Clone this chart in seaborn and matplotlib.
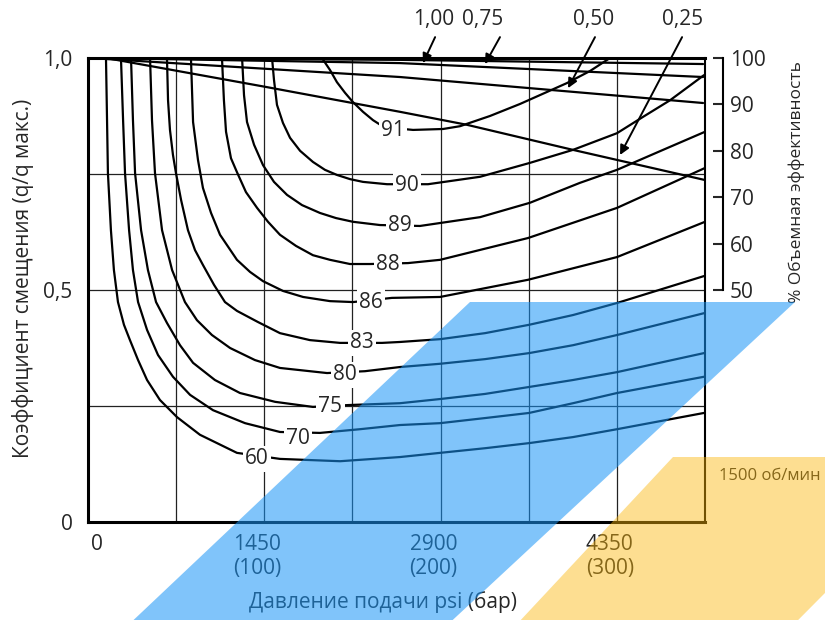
import matplotlib
matplotlib.use("Agg")
import matplotlib.pyplot as plt
import matplotlib.transforms as mtransforms
from matplotlib.patches import Polygon
from matplotlib.ticker import MultipleLocator
import seaborn as sns

sns.set_style("white")
plt.rcParams["font.family"] = ["Open Sans", "DejaVu Sans"]

# x: supply pressure in bar, y: displacement ratio q/q max
c60_p = [10.2, 10.8, 11.3, 13.0, 14.7, 17.0, 20.4, 23.8, 28.4, 33.5, 40.8, 50.5, 63.5, 84.5, 108.9, 143.0, 177.0, 199.7, 225.2, 250.2, 275.1, 300.1, 349.4]
c60_q = [1.000, 0.866, 0.752, 0.629, 0.543, 0.474, 0.425, 0.392, 0.349, 0.306, 0.263, 0.226, 0.188, 0.149, 0.136, 0.131, 0.140, 0.149, 0.159, 0.170, 0.183, 0.200, 0.235]

c70_p = [18.7, 19.9, 21.0, 23.3, 25.5, 28.4, 33.5, 39.7, 48.2, 57.9, 70.9, 89.1, 108.9, 131.6, 154.3, 177.0, 199.7, 225.2, 250.2, 275.1, 300.1, 349.4]
c70_q = [1.000, 0.866, 0.752, 0.629, 0.543, 0.474, 0.414, 0.360, 0.313, 0.274, 0.241, 0.213, 0.194, 0.192, 0.200, 0.209, 0.213, 0.224, 0.235, 0.256, 0.278, 0.313]

c75_p = [24.4, 25.5, 26.7, 30.1, 34.0, 38.6, 44.8, 52.2, 59.6, 72.0, 86.2, 106.1, 127.6, 147.5, 177.0, 199.7, 225.2, 250.2, 275.1, 300.1, 349.4]
c75_q = [1.000, 0.866, 0.752, 0.629, 0.543, 0.474, 0.429, 0.381, 0.343, 0.306, 0.278, 0.259, 0.248, 0.252, 0.256, 0.265, 0.276, 0.291, 0.306, 0.323, 0.364]

c80_p = [35.2, 36.3, 38.0, 42.0, 47.7, 55.0, 61.8, 70.3, 80.6, 94.7, 108.9, 135.6, 157.1, 177.0, 199.7, 225.2, 250.2, 275.1, 300.1, 349.4]
c80_q = [1.000, 0.866, 0.752, 0.629, 0.543, 0.474, 0.435, 0.403, 0.375, 0.349, 0.332, 0.321, 0.325, 0.334, 0.341, 0.351, 0.364, 0.381, 0.403, 0.450]

c83_p = [44.8, 45.4, 46.5, 48.2, 49.9, 52.8, 56.7, 60.7, 65.2, 71.5, 77.7, 84.5, 96.4, 108.9, 125.9, 143.0, 166.8, 177.0, 199.7, 225.2, 250.2, 275.1, 300.1, 349.4]
c83_q = [1.000, 0.909, 0.845, 0.791, 0.752, 0.694, 0.629, 0.586, 0.554, 0.511, 0.474, 0.455, 0.431, 0.407, 0.392, 0.386, 0.386, 0.388, 0.394, 0.407, 0.425, 0.446, 0.472, 0.530]

c86_p = [58.4, 59.6, 62.4, 65.2, 69.8, 74.9, 84.5, 91.9, 99.3, 110.6, 122.0, 137.3, 150.3, 172.4, 199.7, 249.6, 300.1, 350.0]
c86_q = [1.000, 0.862, 0.780, 0.720, 0.666, 0.619, 0.565, 0.539, 0.519, 0.498, 0.485, 0.476, 0.474, 0.483, 0.485, 0.522, 0.571, 0.647]

c88_p = [76.0, 77.1, 78.3, 81.1, 84.5, 89.6, 95.9, 102.1, 108.9, 118.0, 127.6, 137.3, 148.6, 160.0, 181.5, 199.7, 249.6, 300.1, 350.0]
c88_q = [1.000, 0.909, 0.841, 0.784, 0.754, 0.711, 0.677, 0.647, 0.619, 0.595, 0.575, 0.565, 0.556, 0.556, 0.558, 0.565, 0.612, 0.677, 0.763]

c89_p = [87.4, 88.5, 90.2, 94.2, 99.3, 105.5, 112.9, 121.4, 131.6, 140.7, 150.3, 165.6, 188.3, 222.4, 250.7, 279.1, 300.1, 326.2, 350.0]
c89_q = [1.000, 0.920, 0.862, 0.813, 0.769, 0.733, 0.705, 0.683, 0.666, 0.655, 0.647, 0.640, 0.638, 0.657, 0.688, 0.731, 0.759, 0.802, 0.841]

c90_p = [104.4, 105.5, 107.2, 110.6, 114.6, 120.3, 127.6, 134.4, 141.2, 148.6, 156.0, 169.6, 192.9, 222.4, 250.7, 275.1, 300.1, 314.8, 330.2, 349.4]
c90_q = [1.000, 0.953, 0.899, 0.860, 0.828, 0.800, 0.776, 0.759, 0.748, 0.739, 0.733, 0.728, 0.728, 0.744, 0.774, 0.802, 0.838, 0.873, 0.909, 0.963]

c91_p = [132.7, 137.3, 141.2, 145.8, 150.3, 156.0, 161.7, 167.9, 184.4, 201.4, 211.0, 228.0, 245.1, 271.7, 284.8, 296.1]
c91_q = [1.000, 0.974, 0.948, 0.925, 0.905, 0.884, 0.866, 0.851, 0.845, 0.847, 0.853, 0.875, 0.901, 0.946, 0.972, 1.000]

eff_levels = ["60", "70", "75", "80", "83", "86", "88", "89", "90", "91"]
label_p = [95.9, 119.1, 137.3, 145.8, 155.4, 160.5, 170.2, 177.0, 181.0, 173.0]
label_q = [0.136, 0.181, 0.248, 0.317, 0.386, 0.474, 0.556, 0.640, 0.726, 0.843]

# volumetric efficiency (%) for displacement 1.00 / 0.75 / 0.50 / 0.25
ve100_p = [6.8, 177.0, 348.9]
ve100 = [100.0, 99.6, 98.7]
ve075_p = [6.8, 177.0, 348.9]
ve075 = [100.0, 98.9, 95.9]
ve050_p = [9.6, 177.0, 348.9]
ve050 = [99.8, 95.9, 90.3]
ve025_p = [10.2, 100.4, 177.0, 215.0, 275.1, 350.0]
ve025 = [100.0, 93.8, 88.4, 85.6, 80.2, 73.7]

disp_names = ["1,00", "0,75", "0,50", "0,25"]
disp_text_p = [196.3, 224.1, 287.0, 337.5]
disp_start_p = [196.9, 233.7, 287.6, 337.0]
disp_tip_p = [190.0, 225.2, 272.3, 301.8]
disp_tip_ve = [98.9, 98.7, 93.5, 79.1]

x_ticks = [0, 100, 200, 300]
x_ticklabels = ["0", "1450\n(100)", "2900\n(200)", "4350\n(300)"]
y_ticks = [0, 0.5, 1.0]
y_ticklabels = ["0", "0,5", "1,0"]
ve_ticks = [50, 60, 70, 80, 90, 100]

fig = plt.figure(figsize=(8.25, 6.2), dpi=100)
ax = fig.add_axes([88 / 825, 1 - 522 / 620, 617 / 825, 464 / 620])
ax.set_xlim(0, 350)
ax.set_ylim(0, 1)

ax.xaxis.set_minor_locator(MultipleLocator(50))
ax.yaxis.set_minor_locator(MultipleLocator(0.25))
ax.grid(which="both", color="#222222", lw=0.9)

contours = [
    (c60_p, c60_q), (c70_p, c70_q), (c75_p, c75_q), (c80_p, c80_q), (c83_p, c83_q),
    (c86_p, c86_q), (c88_p, c88_q), (c89_p, c89_q), (c90_p, c90_q), (c91_p, c91_q),
]
for p, q in contours:
    sns.lineplot(x=p, y=q, sort=False, estimator=None, color="black", lw=1.6,
                 solid_joinstyle="round", ax=ax)

for txt, p, q in zip(eff_levels, label_p, label_q):
    ax.text(p, q, txt, ha="center", va="center", fontsize=15, zorder=5,
            bbox=dict(boxstyle="square,pad=0.12", fc="white", ec="none"))

ax.set_xticks(x_ticks)
ax.set_xticklabels(x_ticklabels, fontsize=15, linespacing=1.15)
ax.set_yticks(y_ticks)
ax.set_yticklabels(y_ticklabels, fontsize=15)
ax.tick_params(axis="both", which="both", length=0)
ax.tick_params(axis="x", pad=9)
ax.tick_params(axis="y", pad=11)
for lbl, dx in zip(ax.get_xticklabels(), [9, -7, -7, -7]):
    lbl.set_transform(lbl.get_transform() + mtransforms.ScaledTranslation(dx / 100, 0, fig.dpi_scale_trans))

for side in ["left", "top", "bottom"]:
    ax.spines[side].set_linewidth(2.2)
    ax.spines[side].set_color("black")
ax.spines["right"].set_linewidth(1.5)
ax.spines["right"].set_color("black")

ax.set_ylabel("Коэффициент смещения (q/q макс.)", fontsize=15)
ax.yaxis.set_label_coords(-0.088, 0.524)
ax.set_xlabel("Давление подачи psi (бар)", fontsize=15)
ax.xaxis.set_label_coords(0.478, -0.148)

# right axis: volumetric efficiency
ax2 = ax.twinx()
ax2.set_ylim(0, 100)
for side in ["left", "top", "bottom"]:
    ax2.spines[side].set_visible(False)
ax2.spines["right"].set_position(("outward", 13))
ax2.spines["right"].set_bounds(50, 100)
ax2.spines["right"].set_linewidth(1.5)
ax2.spines["right"].set_color("black")
ax2.set_yticks(ve_ticks)
ax2.tick_params(axis="y", direction="in", length=7, width=1.5, pad=5, labelsize=15)
ax2.grid(False)

for p, v in [(ve100_p, ve100), (ve075_p, ve075), (ve050_p, ve050), (ve025_p, ve025)]:
    sns.lineplot(x=p, y=v, sort=False, estimator=None, color="black", lw=1.6,
                 solid_joinstyle="round", ax=ax2)

for name, tp, sp, hp, hv in zip(disp_names, disp_text_p, disp_start_p, disp_tip_p, disp_tip_ve):
    ax2.text(tp, 108.2, name, ha="center", va="center", fontsize=15)
    ax2.annotate("", xy=(hp, hv), xytext=(sp, 104.5), annotation_clip=False,
                 arrowprops=dict(arrowstyle="-|>", color="black", lw=1.4,
                                 mutation_scale=14, shrinkA=0, shrinkB=0))

fig.text(797 / 825, 1 - 182 / 620, "% Объемная эффективность", rotation=90,
         ha="center", va="center", fontsize=12.5)
fig.text(770 / 825, 1 - 476 / 620, "1500 об/мин", ha="center", va="center", fontsize=12)

# coloured bands laid over the chart
blue = Polygon([(470 / 825, 1 - 302 / 620), (795 / 825, 1 - 302 / 620),
                (446 / 825, -0.01), (127 / 825, -0.01)],
               closed=True, transform=fig.transFigure, fc="#1894F6", alpha=0.55,
               ec="none", zorder=20)
gold = Polygon([(673 / 825, 1 - 457 / 620), (960 / 825, 1 - 457 / 620),
                (792 / 825, -0.01), (515 / 825, -0.01)],
               closed=True, transform=fig.transFigure, fc="#FBB60B", alpha=0.45,
               ec="none", zorder=20)
fig.add_artist(blue)
fig.add_artist(gold)

fig.savefig("out.png", dpi=100)
